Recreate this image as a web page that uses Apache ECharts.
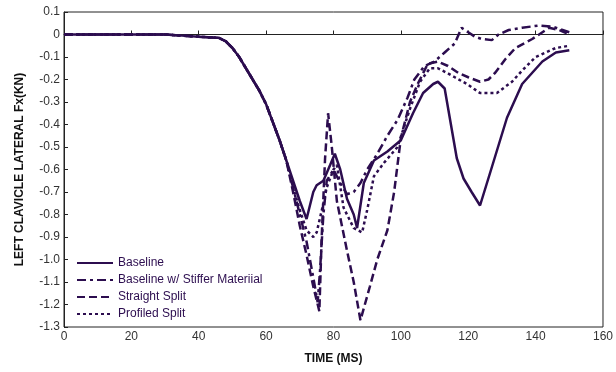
<!DOCTYPE html>
<html><head><meta charset="utf-8">
<script src="https://cdn.jsdelivr.net/npm/echarts@6/dist/echarts.min.js"></script>
<style>html,body{margin:0;padding:0;background:#fff}#c{width:616px;height:372px}</style>
</head><body><div id="c"></div>
<script>
const seriesNames = ['Baseline', 'Baseline w/ Stiffer Materiial', 'Straight Split', 'Profiled Split'];
const xTicks = [0, 20, 40, 60, 80, 100, 120, 140, 160];

const baselineT = [0, 30, 35, 40, 46, 48, 50, 52, 54, 56, 58, 60, 62, 64, 66, 68, 70, 72, 74, 75, 77, 79, 80.4, 82, 84, 86, 87, 89, 92, 96, 100, 103.6, 106.6, 109.6, 111, 113, 116.6, 118.6, 121, 123.5, 127, 131.5, 136, 142, 146, 150];
const baselineV = [0, 0, -0.005, -0.01, -0.015, -0.03, -0.06, -0.1, -0.15, -0.2, -0.25, -0.31, -0.39, -0.47, -0.56, -0.65, -0.74, -0.82, -0.7, -0.67, -0.65, -0.58, -0.53, -0.6, -0.73, -0.8, -0.86, -0.66, -0.56, -0.52, -0.47, -0.35, -0.26, -0.22, -0.21, -0.24, -0.55, -0.64, -0.7, -0.76, -0.59, -0.37, -0.22, -0.12, -0.08, -0.07];

const stifferT = [0, 30, 35, 40, 46, 48, 50, 52, 54, 56, 58, 60, 62, 64, 66, 68, 70, 72, 74, 75.3, 76, 77, 78, 80, 82, 84, 86, 88, 90, 93, 96, 99, 102, 104, 107, 110, 113, 116, 118, 120, 122, 124, 127, 129, 132, 136, 141, 145, 148, 150];
const stifferV = [0, 0, -0.005, -0.01, -0.015, -0.03, -0.06, -0.1, -0.15, -0.2, -0.25, -0.31, -0.39, -0.47, -0.56, -0.68, -0.8, -0.92, -1.08, -1.19, -1.05, -0.8, -0.65, -0.6, -0.66, -0.71, -0.7, -0.66, -0.6, -0.53, -0.45, -0.38, -0.28, -0.2, -0.14, -0.12, -0.08, -0.04, 0.03, 0.01, -0.01, -0.02, -0.025, 0.0, 0.02, 0.03, 0.04, 0.035, 0.02, 0.01];

const straightT = [0, 30, 35, 40, 46, 48, 50, 52, 54, 56, 58, 60, 62, 64, 66, 68, 70, 72, 74, 75.8, 76.5, 77.5, 78.4, 79.5, 81, 84, 86, 88, 90.8, 93, 96, 98, 100, 102.7, 105, 108, 111, 114, 117, 120, 123.5, 126, 128, 131, 134, 139, 144, 147, 150];
const straightV = [0, 0, -0.005, -0.01, -0.015, -0.03, -0.06, -0.1, -0.15, -0.2, -0.25, -0.31, -0.39, -0.47, -0.56, -0.7, -0.85, -0.98, -1.12, -1.23, -0.9, -0.55, -0.35, -0.5, -0.74, -0.96, -1.1, -1.27, -1.12, -1.0, -0.87, -0.7, -0.46, -0.3, -0.22, -0.13, -0.12, -0.14, -0.17, -0.19, -0.21, -0.2, -0.17, -0.11, -0.06, -0.02, 0.03, 0.02, 0.0];

const profiledT = [0, 30, 35, 40, 46, 48, 50, 52, 54, 56, 58, 60, 62, 64, 66, 68, 70, 72, 74, 75, 77, 78, 80, 81, 83, 86, 88.5, 90, 92, 95, 99, 102.7, 105.7, 108.6, 111, 113.6, 116, 119.6, 123.5, 128.5, 133, 136, 140, 146, 150];
const profiledV = [0, 0, -0.005, -0.01, -0.015, -0.03, -0.06, -0.1, -0.15, -0.2, -0.25, -0.31, -0.39, -0.47, -0.56, -0.68, -0.78, -0.87, -0.9, -0.88, -0.75, -0.68, -0.6, -0.58, -0.77, -0.86, -0.88, -0.78, -0.63, -0.57, -0.5, -0.33, -0.21, -0.15, -0.15, -0.17, -0.19, -0.22, -0.26, -0.26, -0.21, -0.16, -0.1, -0.06, -0.05];

const COLOR = '#2c0d4f';
const zip = (t, v) => t.map((x, i) => [x, v[i]]);
const dashes = ['solid', [9, 4, 3, 4], [8, 4], [3, 3]];
const datas = [zip(baselineT, baselineV), zip(stifferT, stifferV), zip(straightT, straightV), zip(profiledT, profiledV)];

const chart = echarts.init(document.getElementById('c'), null, {renderer: 'canvas'});
chart.setOption({
  animation: false,
  textStyle: {fontFamily: 'Liberation Sans, Arial, sans-serif'},
  grid: {left: 64, right: 13, top: 12, bottom: 45, show: true, borderColor: '#222', borderWidth: 1},
  legend: {
    orient: 'vertical', left: 71, top: 252, itemWidth: 36, itemHeight: 10, itemGap: 5,
    itemStyle: {opacity: 0},
    textStyle: {color: COLOR, fontSize: 12, fontFamily: 'Liberation Sans, Arial, sans-serif'},
    data: seriesNames
  },
  xAxis: {
    type: 'value', min: 0, max: 160, interval: 20,
    name: 'TIME (MS)', nameLocation: 'middle', nameGap: 26,
    nameTextStyle: {fontWeight: 'bold', fontSize: 12, color: '#111'},
    axisLine: {show: true, lineStyle: {color: '#222'}},
    axisTick: {inside: true, length: 4, lineStyle: {color: '#222'}},
    axisLabel: {color: '#333', fontSize: 12, margin: 4},
    splitLine: {show: false}
  },
  yAxis: {
    type: 'value', min: -1.3, max: 0.1, interval: 0.1,
    name: 'LEFT CLAVICLE LATERAL Fx(KN)', nameLocation: 'middle', nameGap: 38,
    nameTextStyle: {fontWeight: 'bold', fontSize: 12, color: '#111'},
    axisLine: {show: true, lineStyle: {color: '#222'}},
    axisTick: {inside: true, length: 4, lineStyle: {color: '#222'}},
    axisLabel: {color: '#333', fontSize: 12, margin: 4,
      formatter: v => Math.abs(v) < 1e-9 ? '0' : v.toFixed(1)},
    splitLine: {show: false}
  },
  series: seriesNames.map((n, i) => ({
    name: n, type: 'line', data: datas[i], symbol: 'none', smooth: false,
    lineStyle: {color: COLOR, width: 2.5, type: dashes[i]},
    itemStyle: {color: COLOR}
  }))
});
</script></body></html>
